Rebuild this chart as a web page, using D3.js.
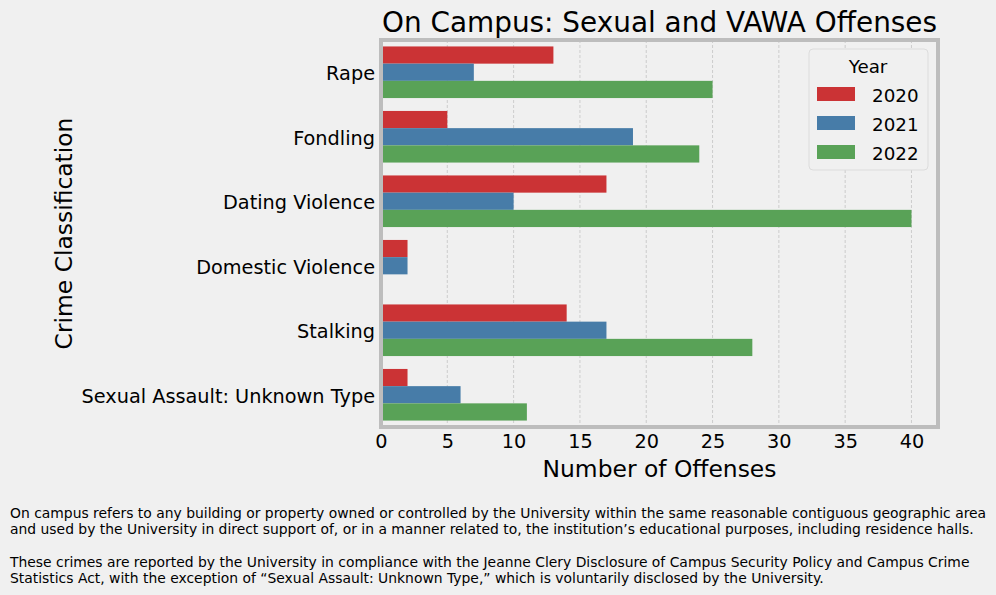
<!DOCTYPE html>
<html>
<head>
<meta charset="utf-8">
<script src="https://cdn.jsdelivr.net/npm/d3@7"></script>
<style>
  html, body { margin: 0; padding: 0; background: #f0f0f0; }
  svg { display: block; font-family: "DejaVu Sans", sans-serif; }
</style>
</head>
<body>
<svg id="chart" width="996" height="595"></svg>
<script>
const categories = ["Rape", "Fondling", "Dating Violence", "Domestic Violence", "Stalking", "Sexual Assault: Unknown Type"];
const years = ["2020", "2021", "2022"];
const values2020 = [13, 5, 17, 2, 14, 2];
const values2021 = [7, 19, 10, 2, 17, 6];
const values2022 = [25, 24, 40, 0, 28, 11];
const xTicks = [0, 5, 10, 15, 20, 25, 30, 35, 40];
const colors = ["#cb3335", "#477ca8", "#59a257"];
const title = "On Campus: Sexual and VAWA Offenses";
const xLabel = "Number of Offenses";
const yLabel = "Crime Classification";
const notes = [
  "On campus refers to any building or property owned or controlled by the University within the same reasonable contiguous geographic area",
  "and used by the University in direct support of, or in a manner related to, the institution\u2019s educational purposes, including residence halls.",
  "",
  "These crimes are reported by the University in compliance with the Jeanne Clery Disclosure of Campus Security Policy and Campus Crime",
  "Statistics Act, with the exception of \u201cSexual Assault: Unknown Type,\u201d which is voluntarily disclosed by the University."
];

const series = [values2020, values2021, values2022];
const rows = [];
categories.forEach((c, i) => years.forEach((yr, j) => rows.push({cat: c, year: yr, value: series[j][i], k: j})));

const svg = d3.select("#chart");
const mLeft = 381, mRight = 938, mTop = 40, mBottom = 427;

const x = d3.scaleLinear().domain([0, 42]).range([mLeft, mRight]);
const y = d3.scaleBand().domain(categories).range([mTop, mBottom]).paddingInner(0.2).paddingOuter(0.1);
const yInner = d3.scaleBand().domain(years).range([0, y.bandwidth()]).padding(0);

// grid
svg.append("g").selectAll("line").data(xTicks.filter(t => t > 0)).join("line")
  .attr("x1", d => x(d)).attr("x2", d => x(d))
  .attr("y1", mTop).attr("y2", mBottom)
  .attr("stroke", "#c8c8c8").attr("stroke-width", 0.9).attr("stroke-dasharray", "3,2");

// bars
svg.append("g").selectAll("rect").data(rows.filter(r => r.value > 0)).join("rect")
  .attr("x", x(0))
  .attr("y", d => y(d.cat) + yInner(d.year))
  .attr("width", d => x(d.value) - x(0))
  .attr("height", yInner.bandwidth())
  .attr("fill", d => colors[d.k]);

// frame
svg.append("rect").attr("x", mLeft).attr("y", mTop).attr("width", mRight - mLeft).attr("height", mBottom - mTop)
  .attr("fill", "none").attr("stroke", "#bdbdbd").attr("stroke-width", 4);

// x axis
const xAxis = svg.append("g").attr("transform", `translate(0,${mBottom})`)
  .call(d3.axisBottom(x).tickValues(xTicks).tickSize(0).tickPadding(7));
xAxis.select(".domain").remove();
xAxis.selectAll("text").attr("font-size", 19.3).attr("fill", "#000").attr("font-family", "DejaVu Sans").attr("dy", "0.71em");

// y axis
const yAxis = svg.append("g").attr("transform", `translate(${mLeft},0)`)
  .call(d3.axisLeft(y).tickSize(0).tickPadding(6));
yAxis.select(".domain").remove();
yAxis.selectAll("text").attr("font-size", 19.3).attr("fill", "#000").attr("font-family", "DejaVu Sans").attr("dy", "0.42em");

// title
svg.append("text").attr("x", (mLeft + mRight) / 2).attr("y", 32).attr("text-anchor", "middle")
  .attr("font-size", 27.9).attr("fill", "#000").text(title);

// axis labels
svg.append("text").attr("x", (mLeft + mRight) / 2).attr("y", 477).attr("text-anchor", "middle")
  .attr("font-size", 23.4).attr("fill", "#000").text(xLabel);
svg.append("text").attr("transform", `translate(72,${(mTop + mBottom) / 2}) rotate(-90)`).attr("text-anchor", "middle")
  .attr("font-size", 23.4).attr("fill", "#000").text(yLabel);

// legend
const lg = svg.append("g");
lg.append("rect").attr("x", 809).attr("y", 49).attr("width", 119).attr("height", 121).attr("rx", 4)
  .attr("fill", "#f0f0f0").attr("stroke", "#dcdcdc").attr("stroke-width", 1);
lg.append("text").attr("x", 868).attr("y", 73).attr("text-anchor", "middle").attr("font-size", 18.3).attr("fill", "#000").text("Year");
years.forEach((yr, i) => {
  lg.append("rect").attr("x", 817).attr("y", 87 + i * 29).attr("width", 38).attr("height", 14).attr("fill", colors[i]);
  lg.append("text").attr("x", 872).attr("y", 101.5 + i * 29).attr("font-size", 18.3).attr("fill", "#000").text(yr);
});

// notes
const nt = svg.append("text").attr("font-size", 13.9).attr("fill", "#000");
notes.forEach((line, i) => {
  nt.append("tspan").attr("x", 10).attr("y", 518 + i * 16.3).text(line);
});
</script>
</body>
</html>
